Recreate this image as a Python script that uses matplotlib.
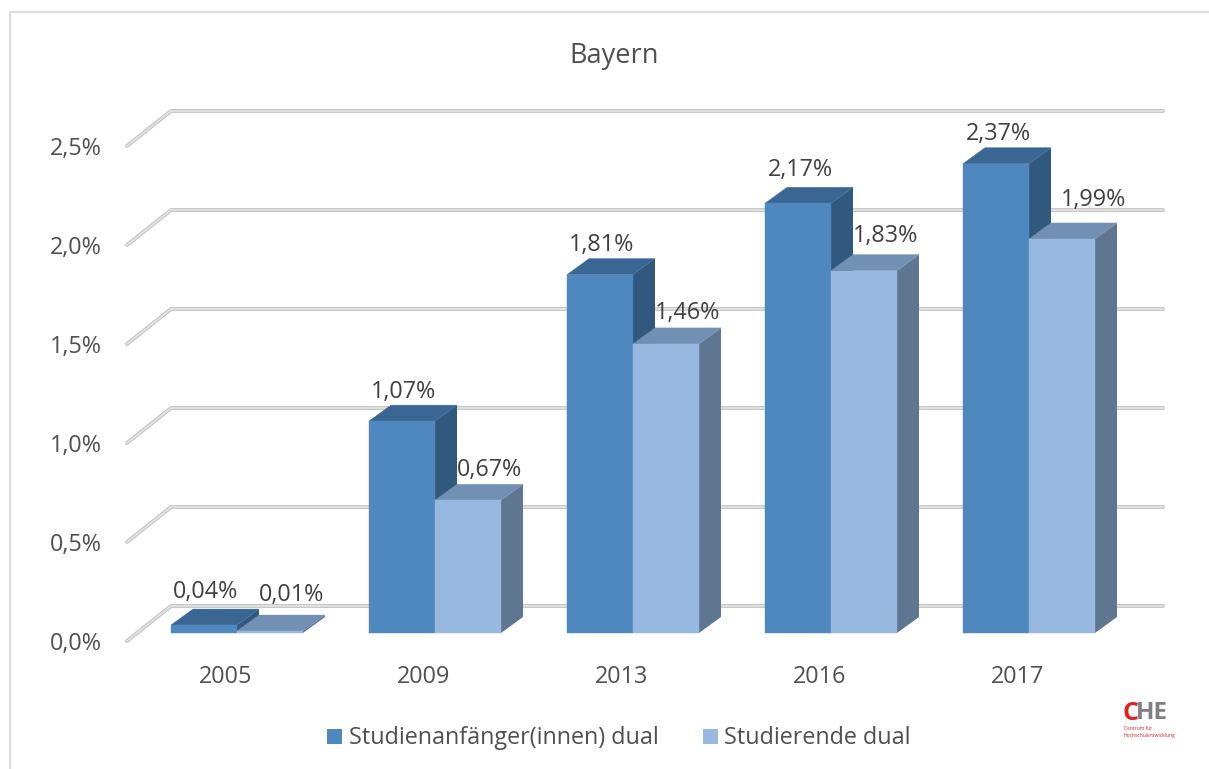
import matplotlib
matplotlib.use('Agg')
import matplotlib.pyplot as plt
from matplotlib.patches import Polygon, Rectangle

plt.rcParams['font.family'] = ['Open Sans', 'DejaVu Sans']

years = ['2005', '2009', '2013', '2016', '2017']
anfaenger = [0.04, 1.07, 1.81, 2.17, 2.37]
studierende = [0.01, 0.67, 1.46, 1.83, 1.99]
anfaenger_labels = ['0,04%', '1,07%', '1,81%', '2,17%', '2,37%']
studierende_labels = ['0,01%', '0,67%', '1,46%', '1,83%', '1,99%']
y_ticks = [0.0, 0.5, 1.0, 1.5, 2.0, 2.5]
y_tick_labels = ['0,0%', '0,5%', '1,0%', '1,5%', '2,0%', '2,5%']

W, H = 1209, 769
SCALE = 198.0  # pixels per category and per percent point
X0, Y0 = 237, 633  # pixel spot of first category on the bar base
TEXT = '#404040'
FS = 16.8

# how far above the bar top each value label sits, in pixels
anfaenger_gap = [33, 29, 30, 33, 30]
studierende_gap = [36, 30, 31, 35, 39]


def px(n):
    return n / SCALE


# Draw one 3D looking bar, left edge x, width w
def draw_bar(ax, x, w, val, front, top, side, z):
    dx, dy = px(22), px(16)
    ax.add_patch(Polygon([(x + w, 0), (x + w + dx, dy), (x + w + dx, val + dy), (x + w, val)],
                         fc=side, ec='none', zorder=z))
    ax.add_patch(Polygon([(x, val), (x + dx, val + dy), (x + w + dx, val + dy), (x + w, val)],
                         fc=top, ec=top, lw=0.3, zorder=z))
    ax.add_patch(Rectangle((x, 0), w, val, fc=front, ec=front, lw=0.3, zorder=z + 0.1))


fig = plt.figure(figsize=(W / 100, H / 100), dpi=100)
ax = fig.add_axes([0, 0, 1, 1])
ax.set_xlim(-X0 / SCALE, (W - X0) / SCALE)
ax.set_ylim(-(H - Y0) / SCALE, Y0 / SCALE)
ax.axis('off')

# chart frame, runs off the picture on the right and at the bottom
ax.plot([px(10 - X0), px(10 - X0), px(W - X0)], [px(Y0 - H), px(Y0 - 12), px(Y0 - 12)],
        color='#dcdcdc', lw=1.5, zorder=0)

# gridlines with the little diagonal wall part
for v, lab in zip(y_ticks, y_tick_labels):
    xs = [px(127 - X0), px(171 - X0), px(1163 - X0)]
    ys = [v - px(8), v + px(27), v + px(27)]
    ax.plot(xs, ys, color='#c4c4c4', lw=2.8, solid_capstyle='round', zorder=1)
    ax.plot(xs, ys, color='#e2e2e2', lw=1.3, solid_capstyle='round', zorder=1.1)
    ax.text(px(102 - X0), v - px(11), lab, ha='right', va='center', fontsize=FS, color='#505050')

bar_w = px(66)
for i, year in enumerate(years):
    # second series goes over the dark side of the first one
    draw_bar(ax, i - bar_w, bar_w, anfaenger[i], '#4f88bf', '#3a6694', '#31597f', 2)
    draw_bar(ax, i, bar_w, studierende[i], '#98b8e1', '#7290b3', '#5f7690', 3)
    ax.text(i - bar_w / 2 + px(2), anfaenger[i] + px(anfaenger_gap[i]), anfaenger_labels[i],
            ha='center', va='center', fontsize=FS, color=TEXT, zorder=5)
    # last label sits further right in the original
    shift = 65 if i == len(years) - 1 else 55
    ax.text(i + px(shift), studierende[i] + px(studierende_gap[i]), studierende_labels[i],
            ha='center', va='center', fontsize=FS, color=TEXT, zorder=5)
    ax.text(i - px(11), px(-44), year, ha='center', va='center', fontsize=FS, color='#505050')

ax.text(px(614 - X0), px(Y0 - 56), 'Bayern', ha='center', va='center', fontsize=19.5, color='#505050')

# legend
ax.add_patch(Rectangle((px(327 - X0), px(Y0 - 744)), px(15), px(15), fc='#4f88bf', ec='none'))
ax.text(px(349 - X0), px(Y0 - 738), 'Studienanfänger(innen) dual', ha='left', va='center',
        fontsize=FS, color='#505050')
ax.add_patch(Rectangle((px(703 - X0), px(Y0 - 744)), px(15), px(15), fc='#98b8e1', ec='none'))
ax.text(px(724 - X0), px(Y0 - 738), 'Studierende dual', ha='left', va='center',
        fontsize=FS, color='#505050')

# CHE logo
ax.text(px(1122 - X0), px(Y0 - 713), 'C', ha='left', va='center', fontsize=18, fontweight='bold', color='#e2211c')
ax.text(px(1136 - X0), px(Y0 - 713), 'HE', ha='left', va='center', fontsize=17.5, fontweight='bold', color='#808080')
ax.text(px(1124 - X0), px(Y0 - 729), 'Centrum für', ha='left', va='center', fontsize=3.6, color='#e2211c')
ax.text(px(1124 - X0), px(Y0 - 736), 'Hochschulentwicklung', ha='left', va='center', fontsize=3.6, color='#e2211c')

fig.savefig('out.png', dpi=100)
